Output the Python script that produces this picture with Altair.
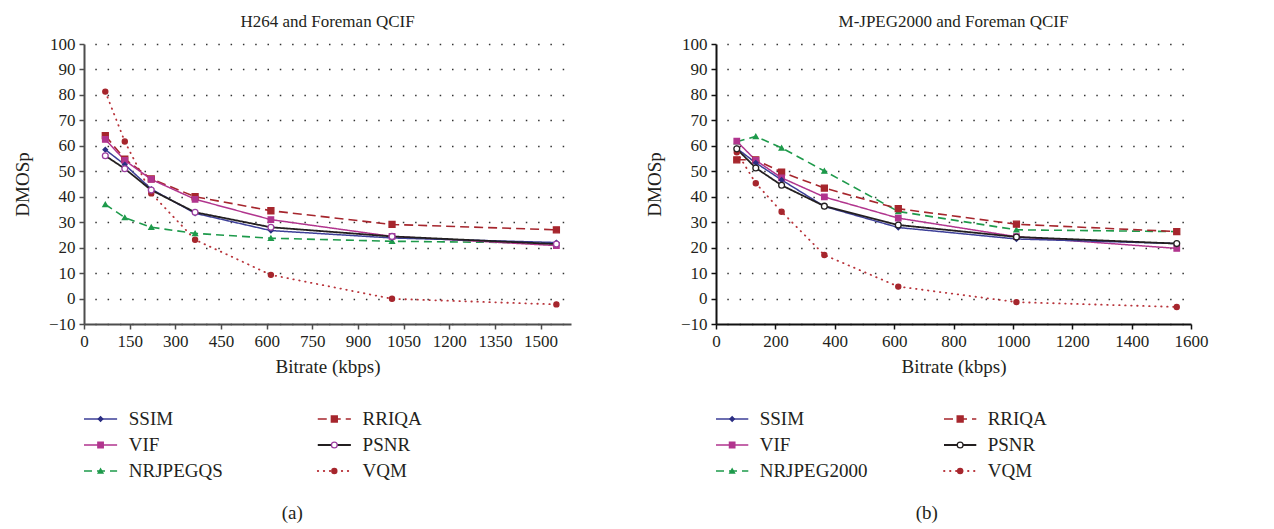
import altair as alt
import pandas as pd

FONT = "Liberation Serif"
TXT = "#231f20"

# ---------------- data ----------------
bitrate = [70, 134, 221, 365, 614, 1012, 1552]

names_a = ["SSIM", "VIF", "NRJPEGQS", "RRIQA", "PSNR", "VQM"]
a_ssim = [58.5, 52.6, 43.0, 33.5, 26.7, 23.8, 22.0]
a_vif = [62.5, 54.3, 46.8, 39.0, 31.0, 24.4, 20.8]
a_nr = [37.0, 31.8, 28.0, 25.6, 23.7, 22.5, 21.8]
a_rriqa = [64.0, 54.8, 47.0, 40.0, 34.5, 29.1, 27.0]
a_psnr = [56.1, 51.0, 42.6, 33.9, 28.0, 24.4, 21.4]
a_vqm = [81.3, 61.7, 41.3, 23.1, 9.3, -0.1, -2.3]

names_b = ["SSIM", "VIF", "NRJPEG2000", "RRIQA", "PSNR", "VQM"]
b_ssim = [59.0, 53.3, 46.6, 36.2, 27.9, 23.4, 21.6]
b_vif = [61.8, 54.3, 47.4, 39.9, 31.6, 24.3, 19.7]
b_nr = [61.6, 63.7, 59.2, 50.1, 34.2, 27.0, 26.3]
b_rriqa = [54.5, 54.5, 49.7, 43.4, 35.3, 29.2, 26.3]
b_psnr = [58.8, 51.3, 44.5, 36.3, 28.9, 24.2, 21.6]
b_vqm = [57.5, 45.3, 34.1, 17.1, 4.7, -1.4, -3.3]

xticks_a = [0, 150, 300, 450, 600, 750, 900, 1050, 1200, 1350, 1500]
xticks_b = [0, 200, 400, 600, 800, 1000, 1200, 1400, 1600]
yticks = [-10, 0, 10, 20, 30, 40, 50, 60, 70, 80, 90, 100]

# ---------------- styles ----------------
def styles(psnr_marker):
    return [
        dict(line="#3d3f98", dash=[1, 0], lw=1.5, shape="diamond", fill="#2b2e83", stroke="#2b2e83", size=20),
        dict(line="#b1358e", dash=[1, 0], lw=1.5, shape="square", fill="#b1358e", stroke="#b1358e", size=30),
        dict(line="#1e9a4b", dash=[8, 5], lw=1.6, shape="triangle-up", fill="#1e9a4b", stroke="#1e9a4b", size=24),
        dict(line="#a6262d", dash=[9, 5], lw=1.6, shape="square", fill="#a6262d", stroke="#a6262d", size=36),
        dict(line="#231f20", dash=[1, 0], lw=1.8, shape="circle", fill="white", stroke=psnr_marker, size=34),
        dict(line="#b8333a", dash=[0.5, 5.5], lw=1.8, shape="circle", fill="#a6262d", stroke="#a6262d", size=26),
    ]


def make_panel(title, names, series, sty, xticks, width, caption, axis_color):
    rows = []
    for n, vals in zip(names, series):
        for b, v in zip(bitrate, vals):
            rows.append({"series": n, "bitrate": b, "value": v})
    df = pd.DataFrame(rows)

    x = alt.X("bitrate:Q", scale=alt.Scale(domain=[0, 1600], nice=False),
              axis=alt.Axis(values=xticks, title="Bitrate (kbps)", grid=False, format="d",
                            domainColor=axis_color, tickColor=axis_color,
                            labelFlush=False, labelOverlap=False, labelPadding=4,
                            titlePadding=8))
    y = alt.Y("value:Q", scale=alt.Scale(domain=[-10, 100], nice=False),
              axis=alt.Axis(values=yticks, title="DMOSp", grid=True, format="d",
                            gridDash=[1.5, 10.8], gridDashOffset=1.5,
                            gridColor="#333333", gridWidth=1.5,
                            domainColor=axis_color, tickColor=axis_color,
                            labelPadding=4, titlePadding=16))

    base = alt.Chart(df)
    layers = []
    order = [5, 2, 3, 1, 0, 4]
    for i in order:
        s = sty[i]
        layers.append(base.transform_filter(alt.datum.series == names[i])
                      .mark_line(color=s["line"], strokeWidth=s["lw"], strokeDash=s["dash"],
                                 strokeCap="round" if i == 5 else "butt")
                      .encode(x=x, y=y))
    for i in order:
        s = sty[i]
        layers.append(base.transform_filter(alt.datum.series == names[i])
                      .mark_point(shape=s["shape"], fill=s["fill"], stroke=s["stroke"],
                                  filled=True, size=s["size"], strokeWidth=1.3, opacity=1)
                      .encode(x=x, y=y))
    plot = alt.layer(*layers).properties(
        width=width, height=280,
        title=alt.Title(title, fontSize=17, font=FONT, fontWeight="normal",
                        color=TXT, anchor="middle", offset=4))

    # legend (two columns, three rows)
    lrows = []
    for i, n in enumerate(names):
        col, row = i // 3, i % 3
        lrows.append({"series": n, "row": row, "x0": col * 48.0,
                      "x1": col * 48.0 + 6.8, "xm": col * 48.0 + 3.4,
                      "xt": col * 48.0 + 9.2})
    ldf = pd.DataFrame(lrows)
    lx = alt.Scale(domain=[0, 100], nice=False)
    ly = alt.Scale(domain=[-0.5, 2.5], reverse=True, nice=False)
    llayers = []
    for i, n in enumerate(names):
        s = sty[i]
        sub = alt.Chart(ldf).transform_filter(alt.datum.series == n)
        llayers.append(sub.mark_rule(color=s["line"], strokeWidth=s["lw"], strokeDash=s["dash"],
                                     strokeCap="round" if i == 5 else "butt")
                       .encode(x=alt.X("x0:Q", scale=lx, axis=None), x2="x1:Q",
                               y=alt.Y("row:Q", scale=ly, axis=None)))
        llayers.append(sub.mark_point(shape=s["shape"], fill=s["fill"], stroke=s["stroke"],
                                      filled=True, size=s["size"], strokeWidth=1.3, opacity=1)
                       .encode(x=alt.X("xm:Q", scale=lx, axis=None),
                               y=alt.Y("row:Q", scale=ly, axis=None)))
        llayers.append(sub.mark_text(align="left", baseline="middle", fontSize=19,
                                     font=FONT, color=TXT)
                       .encode(x=alt.X("xt:Q", scale=lx, axis=None),
                               y=alt.Y("row:Q", scale=ly, axis=None), text="series:N"))
    legend = alt.layer(*llayers).properties(width=width, height=78)

    return alt.vconcat(plot, legend, spacing=30,
                       title=alt.Title(caption, orient="bottom", fontSize=19, font=FONT,
                                       fontWeight="normal", color=TXT, anchor="middle",
                                       offset=20))


left = make_panel("H264 and Foreman QCIF", names_a,
                  [a_ssim, a_vif, a_nr, a_rriqa, a_psnr, a_vqm],
                  styles("#9c3fa0"), xticks_a, 487, "(a)", "#4d4d4d")
right = make_panel("M-JPEG2000 and Foreman QCIF", names_b,
                   [b_ssim, b_vif, b_nr, b_rriqa, b_psnr, b_vqm],
                   styles("#231f20"), xticks_b, 475, "(b)", "#111111")

chart = alt.hconcat(left, right, spacing=74).configure(
    background="white",
    font=FONT,
    view=alt.ViewConfig(stroke=None),
    text=alt.MarkConfig(font=FONT),
    axis=alt.AxisConfig(labelFont=FONT, titleFont=FONT, labelFontSize=17, titleFontSize=19,
                        labelColor=TXT, titleColor=TXT, titleFontWeight="normal",
                        tickSize=5, tickWidth=1.5, domainWidth=2))

chart.save("out.html", embed_options={"renderer": "svg", "actions": False})
